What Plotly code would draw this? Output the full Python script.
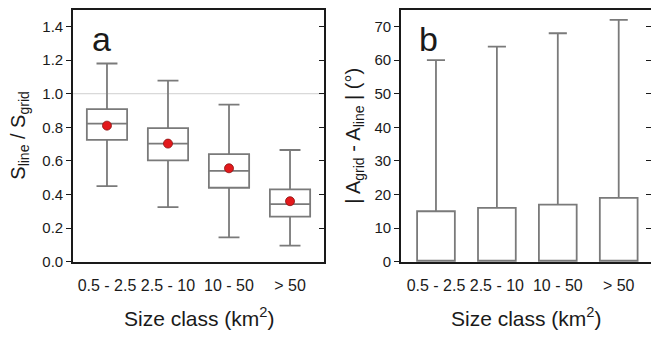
import plotly.graph_objects as go

categories = ["0.5 - 2.5", "2.5 - 10", "10 - 50", "> 50"]

# Panel a: S_line / S_grid box statistics
a_low = [0.45, 0.325, 0.145, 0.095]
a_q1 = [0.725, 0.603, 0.44, 0.268]
a_med = [0.822, 0.703, 0.54, 0.343]
a_q3 = [0.908, 0.795, 0.64, 0.43]
a_high = [1.18, 1.078, 0.935, 0.665]
a_mean = [0.81, 0.703, 0.556, 0.36]

# Panel b: |A_grid - A_line| box statistics
b_low = [0, 0, 0, 0]
b_q1 = [0, 0, 0, 0]
b_med = [0, 0, 0, 0]
b_q3 = [15, 16, 17, 19]
b_high = [60, 64, 68, 72]

W, H = 651, 338
FONT = "Arial, Liberation Sans, sans-serif"
GREY = "#7a7a7a"
DARK = "#1a1a1a"


def px(x):
    return x / W


def py(y):
    return 1 - y / H


fig = go.Figure()

fig.add_trace(go.Box(
    x=categories, q1=a_q1, median=a_med, q3=a_q3,
    lowerfence=a_low, upperfence=a_high,
    width=0.66, whiskerwidth=0.52,
    fillcolor="white", line=dict(color=GREY, width=1.8),
    boxpoints=False, showlegend=False, xaxis="x", yaxis="y",
))
fig.add_trace(go.Scatter(
    x=categories, y=a_mean, mode="markers",
    marker=dict(color="#e3191c", size=9, line=dict(color="#8a1010", width=0.8)),
    showlegend=False, xaxis="x", yaxis="y",
))
fig.add_trace(go.Box(
    x=categories, q1=b_q1, median=b_med, q3=b_q3,
    lowerfence=b_low, upperfence=b_high,
    width=0.62, whiskerwidth=0.48,
    fillcolor="white", line=dict(color=GREY, width=1.8),
    boxpoints=False, showlegend=False, xaxis="x2", yaxis="y2",
))

ydom = [py(268), py(10)]
ytickfont = dict(family=FONT, size=15, color=DARK)
xtickfont = dict(family=FONT, size=16, color=DARK)

fig.update_layout(
    width=W, height=H,
    margin=dict(l=0, r=0, t=0, b=0),
    paper_bgcolor="white", plot_bgcolor="white",
    font=dict(family=FONT, color=DARK),
    xaxis=dict(domain=[px(73), px(324)], range=[-0.557, 3.557], anchor="y",
               showline=True, mirror=True, linecolor=DARK, linewidth=1.6,
               ticks="", ticklabelstandoff=8, showgrid=False, tickfont=xtickfont,
               zeroline=False),
    yaxis=dict(domain=ydom, range=[0, 1.5], anchor="x",
               tickvals=[0, 0.2, 0.4, 0.6, 0.8, 1.0, 1.2, 1.4],
               ticktext=["0.0", "0.2", "0.4", "0.6", "0.8", "1.0", "1.2", "1.4"],
               showline=True, mirror=True, linecolor=DARK, linewidth=1.6,
               ticks="outside", ticklen=5, tickcolor=DARK, tickwidth=1.3,
               showgrid=False, zeroline=False, tickfont=ytickfont),
    yaxis3=dict(overlaying="y", anchor="x", side="right", range=[0, 1.5],
                tickvals=[0, 0.2, 0.4, 0.6, 0.8, 1.0, 1.2, 1.4],
                ticks="inside", ticklen=5, tickcolor=DARK, tickwidth=1.3,
                showticklabels=False, showgrid=False, zeroline=False, showline=False),
    xaxis2=dict(domain=[px(401), 1.0], range=[-0.574, 3.53], anchor="y2",
                showline=True, mirror=True, linecolor=DARK, linewidth=1.6,
                ticks="", ticklabelstandoff=8, showgrid=False, tickfont=xtickfont,
                zeroline=False),
    yaxis2=dict(domain=ydom, range=[0, 75], anchor="x2",
                tickvals=[0, 10, 20, 30, 40, 50, 60, 70],
                showline=True, mirror=False, linecolor=DARK, linewidth=1.6,
                ticks="outside", ticklen=5, tickcolor=DARK, tickwidth=1.3,
                showgrid=False, zeroline=False, tickfont=ytickfont),
    yaxis4=dict(overlaying="y2", anchor="x2", side="right", range=[0, 75],
                tickvals=[0, 10, 20, 30, 40, 50, 60, 70],
                ticks="inside", ticklen=5, tickcolor=DARK, tickwidth=1.3,
                showticklabels=False, showgrid=False, zeroline=False, showline=False),
)

# invisible traces to activate the right-side tick axes
fig.add_trace(go.Scatter(x=[categories[0]], y=[None], xaxis="x", yaxis="y3",
                         showlegend=False, hoverinfo="skip"))
fig.add_trace(go.Scatter(x=[categories[0]], y=[None], xaxis="x2", yaxis="y4",
                         showlegend=False, hoverinfo="skip"))

# reference line at ratio 1.0
fig.add_shape(type="line", xref="x domain", yref="y", x0=0, x1=1, y0=1.0, y1=1.0,
              line=dict(color="#cfcfcf", width=1), layer="below")


def note(text, x, y, size, angle=0):
    return dict(text=text, x=px(x), y=py(y), xref="paper", yref="paper",
                xanchor="center", yanchor="middle", textangle=angle,
                showarrow=False, font=dict(size=size, family=FONT, color=DARK))


ann = [
    note("a", 101, 40, 34),
    note("b", 428, 40, 34),
    note("S<sub>line</sub> / S<sub>grid</sub>", 20, 139, 20, -90),
    note("| A<sub>grid</sub> - A<sub>line</sub> | (°)", 355, 139, 20, -90),
    note("Size class (km<sup>2</sup>)", 199, 325, 21),
    note("Size class (km<sup>2</sup>)", 526, 325, 21),
]
fig.update_layout(annotations=ann)

fig.write_html("out.html")
